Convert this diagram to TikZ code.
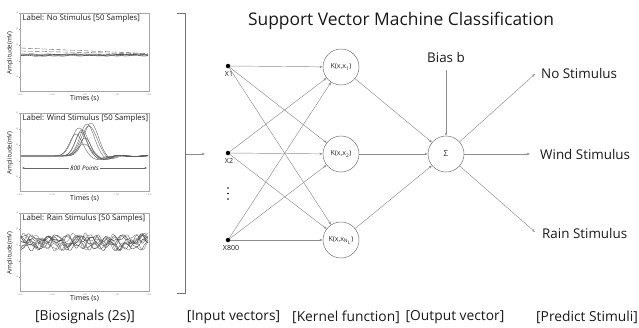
\documentclass[tikz,border=0pt]{standalone}
\usepackage{fontspec}
\setmainfont{Open Sans}
\usetikzlibrary{arrows.meta}

% frame, ticks and captions of one small signal plot (drawn in a shifted scope)
\newcommand\sigframe[1]{%
  \draw[frame] (20,0) rectangle (149,78);
  \foreach \t/\v in {0/60,16/40,32/20,48/0,64/-20}{
    \draw[frame] (19,\t) -- (20,\t);
    \node[tick, anchor=east] at (18.5,\t) {\v};}
  \foreach \t/\v in {20/0.000,52.25/0.500,84.5/1.000,116.75/1.500,149/2.000}{
    \draw[frame] (\t,78) -- (\t,79);
    \node[tick, anchor=north] at (\t,80.5) {\v};}
  \node[txt, anchor=west, font=\fontsize{7.8}{9}\selectfont] at (22.5,5.5) {#1};
  \node[txt, rotate=90, font=\fontsize{6.2}{7}\selectfont] at (10,40) {Amplitude(mV)};
  \node[txt, font=\fontsize{7}{8}\selectfont] at (84.5,85.5) {Times (s)};
}

\begin{document}
\begin{tikzpicture}[x=1pt,y=-1pt,
  txt/.style={text=black!90, inner sep=0pt},
  conn/.style={draw=black!45, line width=0.45pt, -{Stealth[length=3.2pt,width=2.4pt]}},
  unit/.style={circle, draw=black!55, line width=0.5pt, minimum size=36pt,
    inner sep=0pt, font=\fontsize{7}{8}\selectfont, text=black!85},
  inp/.style={circle, fill=black, minimum size=4.5pt, inner sep=0pt},
  frame/.style={draw=black!35, line width=0.5pt},
  trace/.style={draw=black!65, line width=0.35pt},
  tick/.style={font=\fontsize{2}{2}\selectfont, text=black!50, inner sep=0pt},
  big/.style={txt, font=\fontsize{13.8}{16}\selectfont},
  mid/.style={txt, font=\fontsize{13.4}{16}\selectfont},
  small/.style={txt, font=\fontsize{7}{8}\selectfont, anchor=north},
]
\useasboundingbox (0,0) rectangle (639,327);

% ---------- signal plots ----------
\begin{scope}[shift={(0,13)}]
  \sigframe{Label: No Stimulus [50 Samples]}
  \foreach \a/\b/\g in {0/5/60,5/3/75,7/8/50,10/2/70,13/6/80}
    \draw[trace, draw=black!\g] plot[domain=21:148, samples=40, smooth]
      (\x, {42 + 0.8*sin(\x*6+\a*20) + 0.5*sin(\x*17+\b*30)});
  \draw[trace, dashed, dash pattern=on 5pt off 2pt] plot[domain=21:148, samples=20]
      (\x, {35 + (\x-21)/127*5.5});
  \draw[trace, dashed, dash pattern=on 5pt off 2pt] plot[domain=21:148, samples=20]
      (\x, {38 + (\x-21)/127*3});
\end{scope}

\begin{scope}[shift={(0,113)}]
  \sigframe{Label: Wind Stimulus [50 Samples]}
  \foreach \c/\A/\w in {76/22/9,79/28/10,82/26/9,85/18/8,87/32/10,89/30/11,91/33/10,84/12/9,81/24/8}
    \draw[trace] plot[domain=21:148, samples=90, smooth]
      (\x, {43 - \A*exp(max(-9,-((\x-\c)/\w)^2)) + 3.5*exp(max(-9,-((\x-\c-21)/7)^2))
            - 0.8*sin(\x*11+\c*7)*(\x>110)});
  \draw[black!60, line width=0.4pt, {Stealth[length=2.5pt,width=2pt]}-{Stealth[length=2.5pt,width=2pt]}]
    (22,55) -- (147,55);
  \node[txt, fill=white, inner xsep=1pt, font=\fontsize{6.2}{7}\itshape] at (84.5,55) {800 Points};
\end{scope}

\begin{scope}[shift={(0,213)}]
  \sigframe{Label: Rain Stimulus [50 Samples]}
  \foreach \p/\q/\r/\f/\g/\k in {0/40/90/7/19/60,60/10/200/9/25/70,120/300/30/6/29/55,200/150/250/8/21/75,
                              270/80/170/10/17/50,330/220/10/5/27/65,40/260/140/11/23/80,160/20/300/7/31/55,
                              250/190/60/9/15/70,100/330/220/6/22/60,20/120/280/12/26/75}
    \draw[trace, draw=black!\k] plot[domain=21:148, samples=70, smooth]
      (\x, {29 + 4.8*sin(\x*\f+\p) + 3*sin(\x*\g+\q) + 1.5*sin(\x*41+\r)});
\end{scope}

\node[big] at (85,317) {[Biosignals (2s)]};

% ---------- bracket collecting the signals ----------
\draw[black!55, line width=0.5pt] (177,13) -- (185,13) -- (185,293) -- (177,293);
\coordinate (bout) at (186,154);
\coordinate (bin) at (205,154);
\draw[conn] (bout) -- (bin);

% ---------- title ----------
\node[txt, font=\fontsize{17.4}{20}\selectfont] at (401,21) {Support Vector Machine Classification};

% ---------- input vectors ----------
\node[inp] (x1) at (228,66) {};
\node[inp] (x2) at (228,153) {};
\node[inp] (x3) at (228,240) {};
\node[small] at (229,71) {X1};
\node[small] at (229,158) {X2};
\node[small] at (231,245) {X800};
\foreach \y in {188,193.5,199} \fill[black] (228,\y) circle (0.8pt);

% ---------- kernel units ----------
\node[unit] (k1) at (341,67) {K(x,x\textsubscript{1})};
\node[unit] (k2) at (341,154) {K(x,x\textsubscript{2})};
\node[unit] (k3) at (341,240) {K(x,x\textsubscript{N\textsubscript{L}})};

\foreach \i in {x1,x2,x3}
  \foreach \k in {k1,k2,k3}
    \draw[conn] (\i) -- (\k);

% ---------- summation and bias ----------
\node[unit, font=\fontsize{8}{9}\selectfont] (s) at (446,154) {Σ};
\foreach \k in {k1,k2,k3} \draw[conn] (\k) -- (s);

\node[mid] (bias) at (446,57) {Bias b};
\coordinate (bias0) at (446,70);
\draw[conn] (bias0) -- (s);

% ---------- predicted stimuli ----------
\coordinate (o1) at (535,74);
\coordinate (o2) at (530,154);
\coordinate (o3) at (535,232);
\draw[conn] (s) -- (o1);
\draw[conn] (s) -- (o2);
\draw[conn] (s) -- (o3);
\node[mid, anchor=west] at (541,73) {No Stimulus};
\node[mid, anchor=west] at (540,154) {Wind Stimulus};
\node[mid, anchor=west] at (542,233) {Rain Stimulus};

% ---------- column captions ----------
\node[big] at (233.5,317) {[Input vectors]};
\node[big] at (346,317) {[Kernel function]};
\node[big] at (455,317) {[Output vector]};
\node[big] at (587,317) {[Predict Stimuli]};
\end{tikzpicture}
\end{document}
